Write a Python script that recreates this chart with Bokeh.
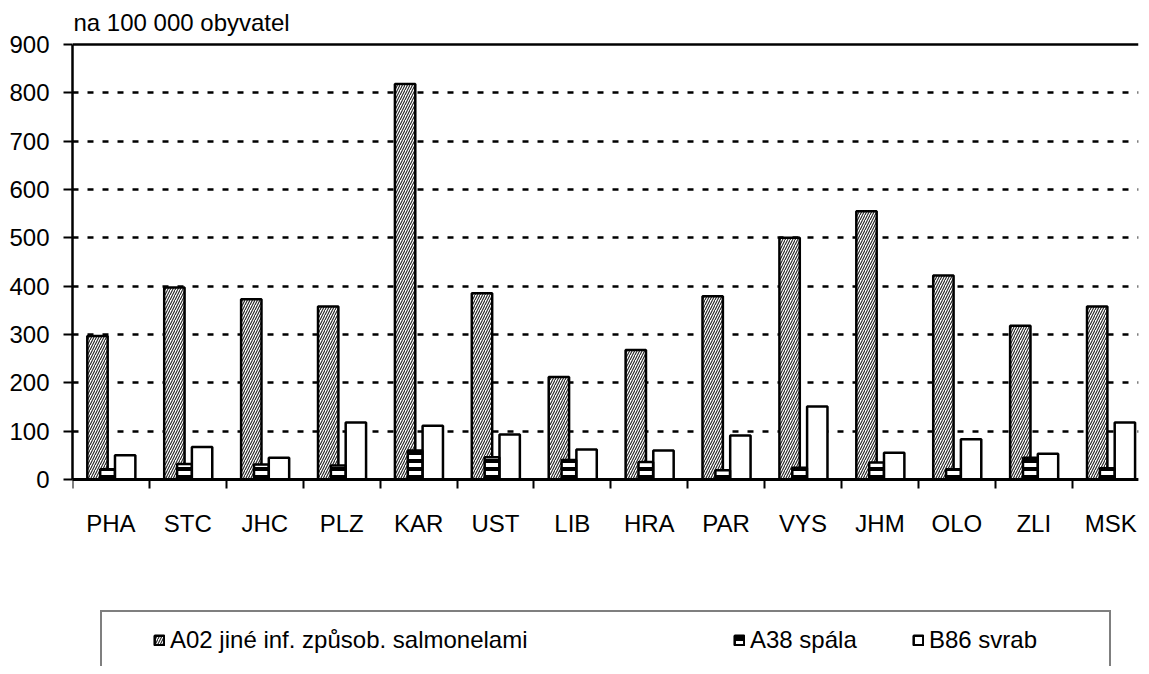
import numpy as np
from bokeh.plotting import figure
from bokeh.models import (ColumnDataSource, Range1d, FixedTicker, Legend, LegendItem)
from bokeh.transform import dodge
from bokeh.embed import file_html
from bokeh.resources import INLINE

regions = ["PHA", "STC", "JHC", "PLZ", "KAR", "UST", "LIB", "HRA", "PAR", "VYS", "JHM", "OLO", "ZLI", "MSK"]
a02 = [297, 397, 373, 358, 818, 385, 212, 268, 379, 500, 555, 422, 318, 358]
a38 = [21, 32, 31, 29, 60, 46, 40, 36, 19, 24, 35, 21, 45, 23]
b86 = [50, 67, 45, 118, 111, 93, 62, 60, 91, 151, 55, 83, 53, 118]
series_labels = ["A02 jiné inf. způsob. salmonelami", "A38 spála", "B86 svrab"]
y_ticks = list(range(0, 901, 100))
y_title = "na 100 000 obyvatel"

FONT = "Liberation Sans"
FS = "24px"

centers = np.arange(len(regions)) + 0.5
src = ColumnDataSource(dict(x=centers, a02=a02, a38=a38, b86=b86))

# frame: left 72, right 1138, top 42, bottom = figure bottom; value 0 sits 187 px above it
p = figure(width=1141, height=666,
           x_range=Range1d(0, len(regions) - 0.138), y_range=Range1d(-387, 904),
           output_backend="svg", toolbar_location=None,
           min_border_left=72, min_border_right=3, min_border_top=42, min_border_bottom=0,
           title=y_title)
p.outline_line_color = None
p.background_fill_color = "white"
p.border_fill_color = "white"

p.title.text_font = FONT
p.title.text_font_size = FS
p.title.text_font_style = "normal"
p.title.text_color = "black"
p.title.align = "left"
p.title.offset = 1
p.title.standoff = 13

# x axis drawn at value 0
xa = p.xaxis[0]
xa.fixed_location = 0
xa.ticker = FixedTicker(ticks=list(centers), minor_ticks=list(range(len(regions) + 1)))
xa.major_label_overrides = {float(c): r for c, r in zip(centers, regions)}
xa.major_tick_out = 0
xa.major_tick_in = 0
xa.minor_tick_out = 9
xa.minor_tick_in = 0
xa.minor_tick_line_width = 2
xa.minor_tick_line_color = "black"
xa.axis_line_width = 3
xa.axis_line_color = "black"
xa.major_label_standoff = 22
xa.major_label_text_font = FONT
xa.major_label_text_font_size = FS
xa.major_label_text_color = "black"

ya = p.yaxis[0]
ya.ticker = FixedTicker(ticks=y_ticks)
ya.bounds = (0, 900)
ya.major_tick_out = 9
ya.major_tick_in = 0
ya.major_tick_line_width = 2
ya.major_tick_line_color = "black"
ya.minor_tick_line_color = None
ya.axis_line_width = 2.5
ya.axis_line_color = "black"
ya.major_label_standoff = 14
ya.major_label_text_font = FONT
ya.major_label_text_font_size = FS
ya.major_label_text_color = "black"

p.xgrid.visible = False
p.ygrid.ticker = FixedTicker(ticks=y_ticks[:-1])
p.ygrid.grid_line_color = "black"
p.ygrid.grid_line_width = 2.5
p.ygrid.grid_line_dash = "6 9"

# solid top line at the axis maximum
p.hspan(y=[y_ticks[-1]], line_color="black", line_width=2.5)

# bars
r1 = p.vbar(x=dodge("x", -0.175, range=p.x_range), top="a02", width=0.265, source=src,
            fill_color="white", line_color="black", line_width=2.5,
            hatch_pattern="/", hatch_color="#222222", hatch_scale=5, hatch_weight=1.1)
r3 = p.vbar(x=dodge("x", 0.185, range=p.x_range), top="b86", width=0.265, source=src,
            fill_color="white", line_color="black", line_width=2.5)
r2 = p.vbar(x=dodge("x", -0.045, range=p.x_range), top="a38", width=0.19, source=src,
            fill_color="white", line_color="black", line_width=2.5,
            hatch_pattern="-", hatch_color="black", hatch_scale=8, hatch_weight=4)

dummy = p.scatter(x=[], y=[], fill_alpha=0, line_alpha=0)

# legend box (its lower part runs past the bottom edge, as in the reference)
box = Legend(items=[LegendItem(label=" ", renderers=[dummy])], location=(28, -39),
             padding=0, margin=0, glyph_width=1, glyph_height=91, label_width=1006,
             label_height=91, label_standoff=0, spacing=0,
             border_line_color="black", border_line_width=2.5,
             background_fill_color="white", background_fill_alpha=1)
p.add_layout(box)

def item_legend(label, rend, vx):
    return Legend(items=[LegendItem(label=label, renderers=[rend])], location=(vx, 12.5),
                  padding=0, margin=0, glyph_width=12, glyph_height=12, label_standoff=5,
                  border_line_alpha=0, background_fill_alpha=0,
                  label_text_font=FONT, label_text_font_size=FS, label_text_color="black")

p.add_layout(item_legend(series_labels[0], r1, 81))
p.add_layout(item_legend(series_labels[1], r2, 661))
p.add_layout(item_legend(series_labels[2], r3, 840))

open("out.html", "w").write(file_html(p, INLINE))
